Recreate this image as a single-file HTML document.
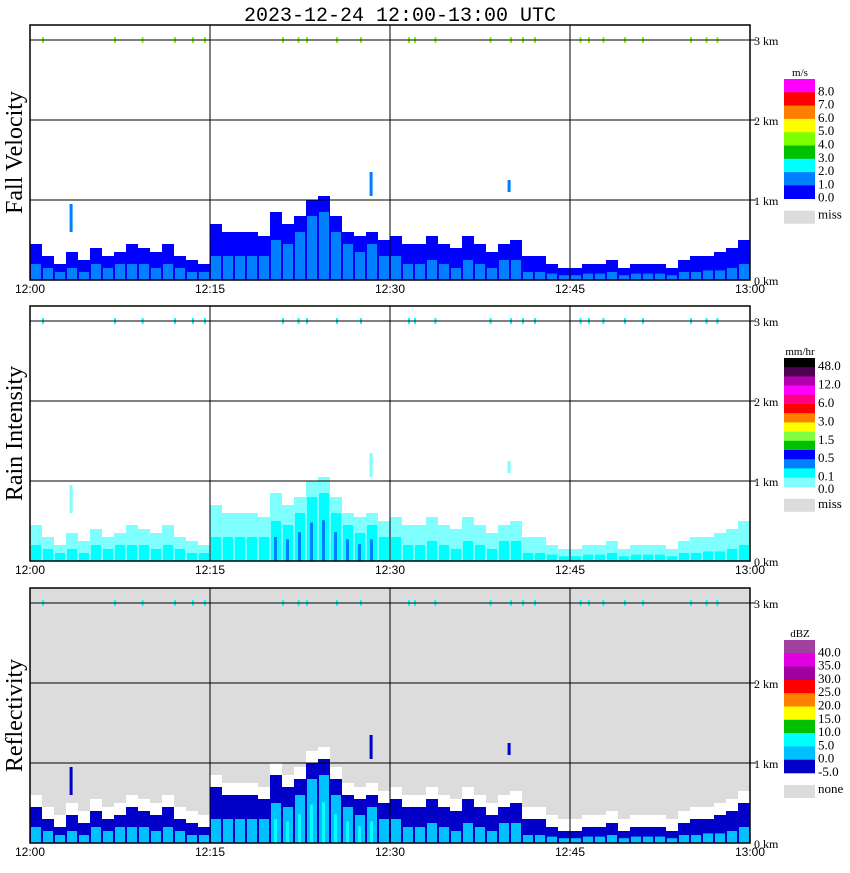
<!DOCTYPE html>
<html><head><meta charset="utf-8">
<style>
body{margin:0;background:#fff;width:850px;height:868px;overflow:hidden;font-family:"Liberation Serif",serif}
</style></head>
<body>
<svg id="c" width="850" height="868" xmlns="http://www.w3.org/2000/svg">
<text x="400" y="21" font-size="20" text-anchor="middle" style="font-family:'Liberation Mono',monospace">2023-12-24 12:00-13:00 UTC</text>
</svg>
<script>
// echo top height (km) per minute, 12:00..13:00
const minutes=[0,1,2,3,4,5,6,7,8,9,10,11,12,13,14,15,16,17,18,19,20,21,22,23,24,25,26,27,28,29,30,31,32,33,34,35,36,37,38,39,40,41,42,43,44,45,46,47,48,49,50,51,52,53,54,55,56,57,58,59];
const echoTop=[0.45,0.3,0.2,0.35,0.25,0.4,0.3,0.35,0.45,0.4,0.35,0.45,0.3,0.25,0.2,0.7,0.6,0.6,0.6,0.55,0.85,0.7,0.8,1.0,1.05,0.8,0.6,0.55,0.6,0.5,0.55,0.45,0.45,0.55,0.45,0.4,0.55,0.45,0.35,0.45,0.5,0.3,0.3,0.2,0.15,0.15,0.2,0.2,0.25,0.15,0.2,0.2,0.2,0.15,0.25,0.3,0.3,0.35,0.4,0.5];
const coreTop=[0.2,0.15,0.1,0.15,0.1,0.2,0.15,0.2,0.2,0.2,0.15,0.2,0.15,0.1,0.1,0.3,0.3,0.3,0.3,0.3,0.5,0.45,0.6,0.8,0.85,0.6,0.45,0.35,0.45,0.3,0.3,0.2,0.2,0.25,0.2,0.15,0.25,0.2,0.15,0.25,0.25,0.1,0.1,0.08,0.06,0.06,0.08,0.08,0.1,0.06,0.08,0.08,0.08,0.06,0.1,0.1,0.12,0.12,0.15,0.2];
const spikeMin=[3.3,28.3,39.8];
const spikeLow=[0.6,1.05,1.1];
const spikeHigh=[0.95,1.35,1.25];
const sprinkles=[1,7,9.3,12,13.5,14.5,21,22.3,23,25.5,27.5,31.5,32,33.7,38.3,40,41,42,45.8,46.5,47.7,49.5,51,55,56.3,57.2];
const timeLabels=["12:00","12:15","12:30","12:45","13:00"];
const kmLabels=["0 km","1 km","2 km","3 km"];

const svg=document.getElementById('c');
const NS='http://www.w3.org/2000/svg';
const X0=30,X1=750;
const xs=m=>X0+(X1-X0)*m/60;
function el(tag,attrs,parent){const e=document.createElementNS(NS,tag);for(const k in attrs)e.setAttribute(k,attrs[k]);(parent||svg).appendChild(e);return e;}

const panels=[
 {title:"Fall Velocity",bottom:280,top:25,bg:"#fff",outer:"#0000ff",inner:"#0080ff",core:"#0080ff",halo:null,spr:"#80ff00",
  legTitle:"m/s",legTop:79,colors:["#ff00ff","#ff0000","#ff8000","#ffff00","#80ff00","#00c000","#00ffff","#0080ff","#0000ff"],labs:["8.0","7.0","6.0","5.0","4.0","3.0","2.0","1.0","0.0"],miss:"miss"},
 {title:"Rain Intensity",bottom:561,top:306,bg:"#fff",outer:"#80ffff",inner:"#00ffff",core:"#0080ff",halo:null,spr:"#00ffff",
  legTitle:"mm/hr",legTop:358,colors:["#000000","#500050","#b000b0","#ff00ff","#ff0080","#ff0000","#ff8000","#ffff00","#80ff40","#00c000","#0000ff","#0080ff","#00ffff","#80ffff"],labs:["48.0","","12.0","","6.0","","3.0","","1.5","","0.5","","0.1",""],miss:"miss",small:true},
 {title:"Reflectivity",bottom:843,top:588,bg:"#dcdcdc",outer:"#0000c8",inner:"#00c0ff",core:"#00ffff",halo:"#fff",spr:"#00ffff",
  legTitle:"dBZ",legTop:640,colors:["#a040a0","#e000e0","#a000a0","#ff0000","#ff8000","#ffff00","#00c000","#00ffff","#00c0ff","#0000c8"],labs:["40.0","35.0","30.0","25.0","20.0","15.0","10.0","5.0","0.0","-5.0"],miss:"none"}
];

panels.forEach((p,pi)=>{
  const g=el('g',{});
  
  
  const ys=k=>p.bottom-80*k;
  el('rect',{x:X0,y:p.top,width:X1-X0,height:p.bottom-p.top,fill:p.bg},g);
  minutes.forEach((m,i)=>{
    const x=xs(m),w=xs(m+1)-x;
    if(p.halo){
      el('rect',{x:x,y:ys(echoTop[i]+0.15),width:w,height:ys(0)-ys(echoTop[i]+0.15),fill:p.halo},g);
    }
    const r=el('rect',{x:x,y:ys(echoTop[i]),width:w,height:ys(0)-ys(echoTop[i]),fill:p.outer},g);
    
    
    const c=el('rect',{x:x+1,y:ys(coreTop[i]),width:w-2,height:ys(0)-ys(coreTop[i]),fill:p.inner},g);
    
    
    if(pi>0 && coreTop[i]>0.3){
      el('rect',{x:x+4,y:ys(coreTop[i]*0.6),width:3,height:ys(0)-ys(coreTop[i]*0.6),fill:p.core},g);
    }
  });
  spikeMin.forEach((m,i)=>{
    const s=el('rect',{x:xs(m),y:ys(spikeHigh[i]),width:3,height:ys(spikeLow[i])-ys(spikeHigh[i]),fill:pi==0?"#0080ff":p.outer},g);
    
    
  });
  sprinkles.forEach(m=>{
    const s=el('rect',{x:xs(m),y:ys(3)-3,width:2,height:6,fill:p.spr},g);
    
    
  });
  for(let k=1;k<=3;k++) el('line',{x1:X0,x2:X1+6,y1:ys(k),y2:ys(k),stroke:"#000","stroke-width":1},g);
  for(let t=1;t<4;t++) el('line',{x1:xs(t*15),x2:xs(t*15),y1:p.top,y2:p.bottom,stroke:"#000","stroke-width":1},g);
  el('rect',{x:X0,y:p.top,width:X1-X0,height:p.bottom-p.top,fill:"none",stroke:"#000","stroke-width":1.5},g);
  kmLabels.forEach((l,k)=>{
    const t=el('text',{x:754,y:ys(k)+5,"font-size":12},g);t.textContent=l;
    
  });
  timeLabels.forEach((l,t)=>{
    const tx=el('text',{x:xs(t*15),y:p.bottom+13,"font-size":12,"text-anchor":"middle",style:"font-family:'Liberation Sans',sans-serif"},g);tx.textContent=l;
    
  });
  const tt=el('text',{transform:`translate(22,${(p.top+p.bottom)/2}) rotate(-90)`,"font-size":24,"text-anchor":"middle"},g);
  tt.textContent=p.title;
  
  const lg=el('g',{},g);
  
  const lt=el('text',{x:800,y:p.legTop-3,"font-size":11,"text-anchor":"middle"},lg);lt.textContent=p.legTitle;
  const bh=p.small?9.2:13.3;
  p.colors.forEach((c,i)=>{
    el('rect',{x:784,y:p.legTop+i*bh,width:31,height:bh+0.3,fill:c},lg);
    if(p.labs[i]){const t=el('text',{x:818,y:p.legTop+(i+1)*bh+3,"font-size":13},lg);t.textContent=p.labs[i];}
  });
  const endY=p.legTop+p.colors.length*bh;
  if(p.small){const t=el('text',{x:818,y:endY+6,"font-size":13},lg);t.textContent="0.0";}
  el('rect',{x:784,y:endY+12,width:31,height:13,fill:"#dcdcdc"},lg);
  const mt=el('text',{x:818,y:endY+(p.small?21:20),"font-size":13},lg);mt.textContent=p.miss;
});
</script>
</body></html>
